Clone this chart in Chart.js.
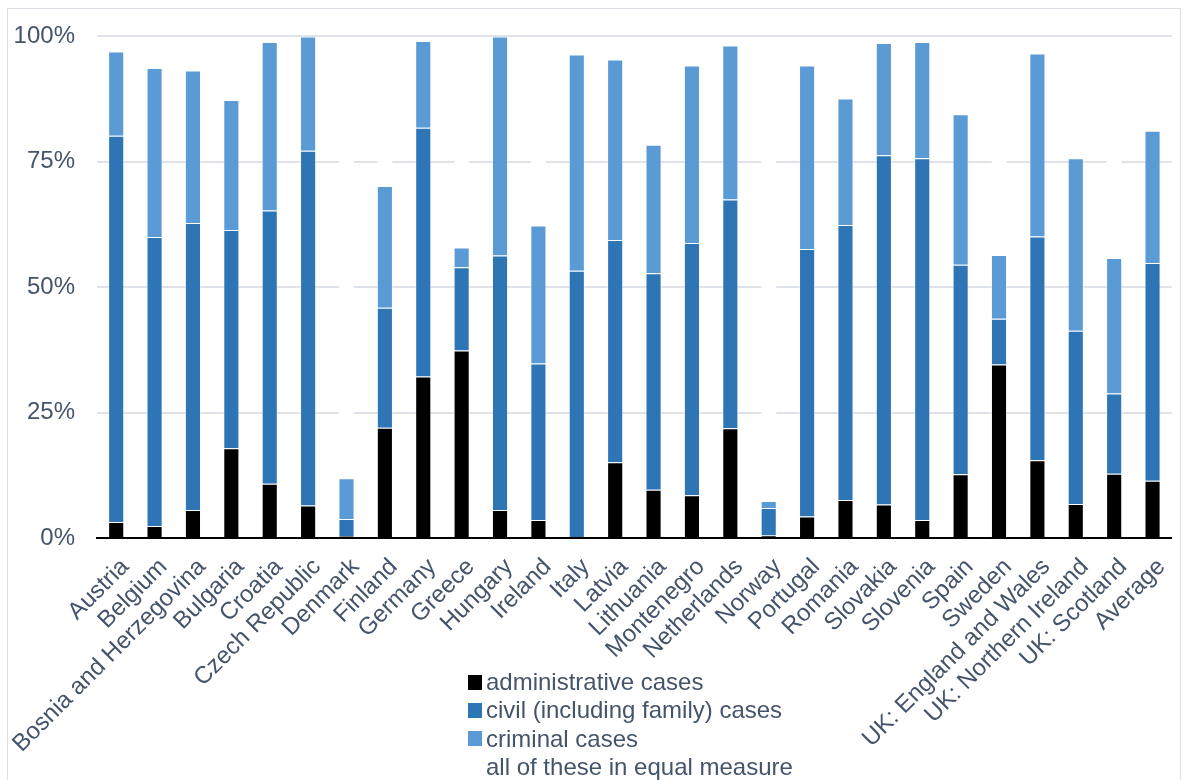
<!DOCTYPE html>
<html>
<head>
<meta charset="utf-8">
<script src="https://cdn.jsdelivr.net/npm/chart.js@4/dist/chart.umd.min.js"></script>
<style>
  body { margin: 0; background: #fff; font-family: "Liberation Sans", Arial, sans-serif; }
  #wrap { position: relative; width: 1188px; height: 780px; overflow: hidden; }
  #frame { position: absolute; left: 7px; top: 8px; width: 1172px; height: 800px; border: 1px solid #dbe0e7; }
  #chart { position: absolute; left: 0; top: 0; }
  #legend { position: absolute; left: 468px; top: 668px; color: #44546A; font-size: 24px; }
  #legend div { display: flex; align-items: center; height: 28.3px; white-space: nowrap; }
  #legend span.box { display: inline-block; width: 14px; height: 15px; margin-right: 4px; }
</style>
</head>
<body>
<div id="wrap">
  <div id="frame"></div>
  <canvas id="chart" width="1188" height="780"></canvas>
  <div id="legend"></div>
</div>
<script>
const countries = ["Austria", "Belgium", "Bosnia and Herzegovina", "Bulgaria", "Croatia", "Czech Republic",
  "Denmark", "Finland", "Germany", "Greece", "Hungary", "Ireland", "Italy", "Latvia", "Lithuania",
  "Montenegro", "Netherlands", "Norway", "Portugal", "Romania", "Slovakia", "Slovenia", "Spain", "Sweden",
  "UK: England and Wales", "UK: Northern Ireland", "UK: Scotland", "Average"];

const administrative = [3.2, 2.4, 5.6, 17.9, 10.8, 6.5, 0.4, 22.0, 32.2, 37.4, 5.6, 3.6, 0, 15.1, 9.6,
  8.5, 21.9, 0.5, 4.3, 7.6, 6.7, 3.6, 12.7, 34.6, 15.5, 6.8, 12.8, 11.4];
const civil = [77.0, 57.6, 57.2, 43.5, 54.5, 70.7, 3.4, 23.9, 49.6, 16.6, 50.7, 31.2, 53.3, 44.3, 43.2,
  50.3, 45.6, 5.5, 53.3, 54.8, 69.6, 72.1, 41.8, 9.1, 44.6, 34.5, 16.0, 43.4];
const criminal = [16.8, 33.7, 30.4, 25.9, 33.6, 22.8, 8.1, 24.3, 17.3, 3.9, 43.7, 27.5, 43.1, 36.0, 25.6,
  35.4, 30.7, 1.4, 36.6, 25.2, 22.4, 23.2, 30.0, 12.7, 36.5, 34.4, 27.0, 26.4];
const equalMeasure = [3.0, 6.3, 6.8, 12.7, 1.1, 0, 88.1, 29.8, 0.9, 42.1, 0, 37.7, 3.6, 4.6, 21.6,
  5.8, 1.8, 92.6, 5.8, 12.4, 1.3, 1.1, 15.5, 43.6, 3.4, 24.3, 44.2, 18.8];

const yTicks = [0, 25, 50, 75, 100];

const textColor = "#44546A";
const font = { family: "'Liberation Sans', Arial, sans-serif", size: 24 };

const datasets = [
  { label: "administrative cases", data: administrative, backgroundColor: "#000000" },
  { label: "civil (including family) cases", data: civil, backgroundColor: "#2E75B6" },
  { label: "criminal cases", data: criminal, backgroundColor: "#5B9BD5" },
  { label: "all of these in equal measure", data: equalMeasure, backgroundColor: "#FFFFFF" }
].map(d => Object.assign(d, {
  borderColor: "rgba(255,255,255,0.45)",
  borderWidth: 1,
  barPercentage: 0.42,
  categoryPercentage: 1
}));

new Chart(document.getElementById("chart"), {
  type: "bar",
  data: { labels: countries, datasets: datasets },
  options: {
    responsive: false,
    animation: false,
    layout: { padding: { top: 34, right: 5, left: 0, bottom: 0 } },
    plugins: { legend: { display: false }, tooltip: { enabled: false } },
    scales: {
      x: {
        stacked: true,
        z: 1,
        grid: { display: false, drawTicks: false },
        border: { display: true, color: "#000000", width: 2 },
        ticks: { color: textColor, font: font, minRotation: 45, maxRotation: 45, autoSkip: false, padding: 15, labelOffset: 9 },
        afterFit: s => { s.height = 242; }
      },
      y: {
        stacked: true,
        min: 0,
        max: 100,
        afterBuildTicks: s => { s.ticks = yTicks.map(v => ({ value: v })); },
        grid: { color: "#dfe3e9", lineWidth: 2, drawTicks: false },
        border: { display: false },
        ticks: { color: textColor, font: font, padding: 22, callback: v => v + "%" },
        afterFit: s => { s.width = 97; }
      }
    }
  }
});

const legend = document.getElementById("legend");
datasets.forEach(d => {
  const row = document.createElement("div");
  const box = document.createElement("span");
  box.className = "box";
  box.style.background = d.backgroundColor;
  row.appendChild(box);
  row.appendChild(document.createTextNode(d.label));
  legend.appendChild(row);
});
</script>
</body>
</html>
